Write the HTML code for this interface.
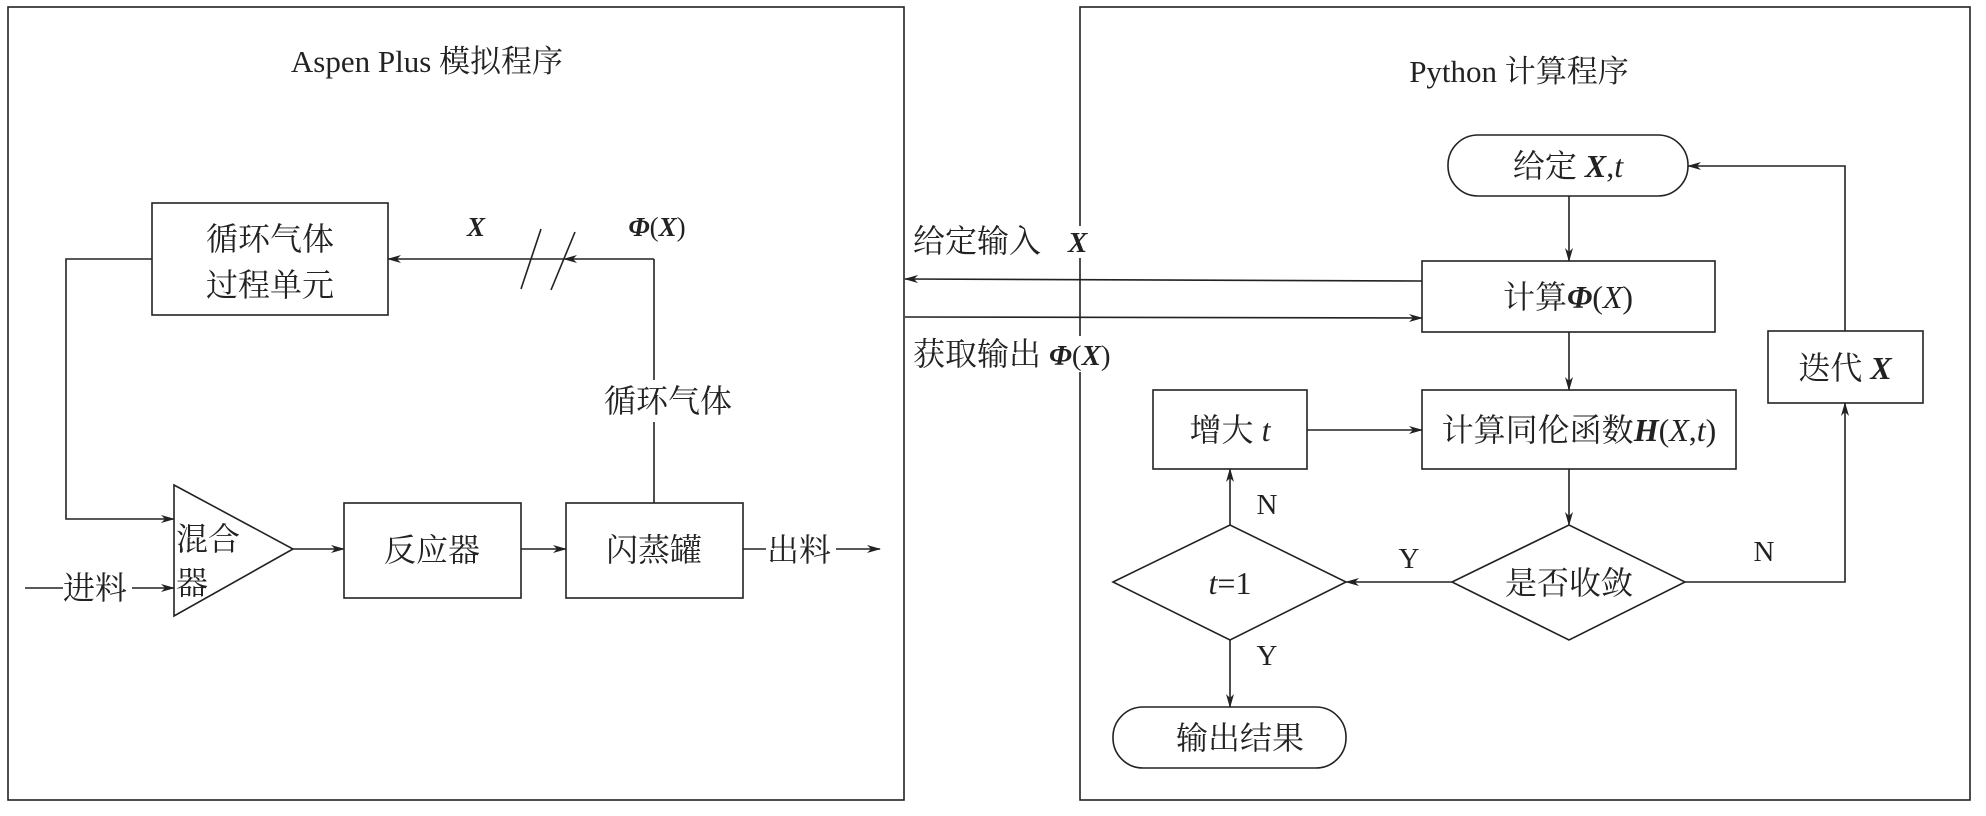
<!DOCTYPE html>
<html><head><meta charset="utf-8"><style>
html,body{margin:0;padding:0;background:#fff;}
svg{display:block;}
text{font-family:"Liberation Serif","Noto Serif CJK SC","Noto Sans CJK SC",serif;fill:#222;}
.i{font-style:italic;font-weight:bold;}
.it{font-style:italic;}
</style></head><body>
<svg width="1986" height="816" viewBox="0 0 1986 816" xmlns="http://www.w3.org/2000/svg">
<defs>
<marker id="a" markerWidth="14" markerHeight="8" refX="13" refY="4" orient="auto" markerUnits="userSpaceOnUse">
<path d="M0,0 L14,4 L0,8 L4,4 Z" fill="#222"/></marker>
</defs>
<g stroke="#222" stroke-width="1.6" fill="none">
<rect x="8" y="7" width="896" height="793"/>
<rect x="1080" y="7" width="890" height="793"/>
<rect x="152" y="203" width="236" height="112"/>
<line x1="654" y1="259" x2="564" y2="259" marker-end="url(#a)"/>
<line x1="564" y1="259" x2="388" y2="259" marker-end="url(#a)"/>
<line x1="541" y1="229" x2="521" y2="289"/>
<line x1="575" y1="232" x2="551" y2="290"/>
<line x1="654" y1="259" x2="654" y2="503"/>
<polyline points="152,259 66,259 66,519 174,519" marker-end="url(#a)"/>
<polygon points="174,485 174,616 293,549"/>
<line x1="293" y1="549" x2="344" y2="549" marker-end="url(#a)"/>
<rect x="344" y="503" width="177" height="95"/>
<line x1="521" y1="549" x2="566" y2="549" marker-end="url(#a)"/>
<rect x="566" y="503" width="177" height="95"/>
<line x1="743" y1="549" x2="766" y2="549"/>
<line x1="836" y1="549" x2="880" y2="549" marker-end="url(#a)"/>
<line x1="25" y1="588" x2="63" y2="588"/>
<line x1="132" y1="588" x2="174" y2="588" marker-end="url(#a)"/>
<line x1="1422" y1="281" x2="905" y2="279" marker-end="url(#a)"/>
<line x1="905" y1="317" x2="1422" y2="318" marker-end="url(#a)"/>
<rect x="1448" y="135" width="240" height="61" rx="30"/>
<line x1="1569" y1="196" x2="1569" y2="261" marker-end="url(#a)"/>
<rect x="1422" y="261" width="293" height="71"/>
<line x1="1569" y1="332" x2="1569" y2="390" marker-end="url(#a)"/>
<rect x="1422" y="390" width="314" height="79"/>
<rect x="1153" y="390" width="154" height="79"/>
<line x1="1307" y1="430" x2="1422" y2="430" marker-end="url(#a)"/>
<line x1="1569" y1="469" x2="1569" y2="525" marker-end="url(#a)"/>
<polygon points="1452,582 1569,525 1685,582 1569,640"/>
<polygon points="1113,582 1230,525 1346,582 1230,640"/>
<line x1="1452" y1="582" x2="1346" y2="582" marker-end="url(#a)"/>
<line x1="1230" y1="525" x2="1230" y2="469" marker-end="url(#a)"/>
<line x1="1230" y1="640" x2="1230" y2="707" marker-end="url(#a)"/>
<rect x="1113" y="707" width="233" height="61" rx="30"/>
<polyline points="1685,582 1845,582 1845,403" marker-end="url(#a)"/>
<rect x="1768" y="331" width="155" height="72"/>
<polyline points="1845,331 1845,166 1688,166" marker-end="url(#a)"/>
</g>
<rect x="1074" y="226" width="12" height="32" fill="#fff"/>
<rect x="1074" y="336" width="12" height="36" fill="#fff"/>
<g font-size="32">
<text x="427" y="72" text-anchor="middle" font-size="31">Aspen Plus 模拟程序</text>
<text x="270" y="250" text-anchor="middle">循环气体</text>
<text x="270" y="296" text-anchor="middle">过程单元</text>
<text x="476" y="236" text-anchor="middle" class="i" font-size="27">X</text>
<text x="657" y="236" text-anchor="middle" font-size="27"><tspan class="i">Φ</tspan>(<tspan class="i">X</tspan>)</text>
<rect x="596" y="380" width="144" height="42" fill="#fff"/>
<text x="668" y="412" text-anchor="middle">循环气体</text>
<text x="176" y="550">混合</text>
<text x="176" y="594">器</text>
<text x="63" y="599">进料</text>
<text x="432" y="561" text-anchor="middle">反应器</text>
<text x="654" y="561" text-anchor="middle">闪蒸罐</text>
<text x="767" y="561">出料</text>
<text x="913" y="252">给定输入</text>
<text x="1068" y="252" class="i" font-size="29">X</text>
<text x="913" y="365">获取输出 <tspan class="i" font-size="29">Φ</tspan><tspan font-size="29">(</tspan><tspan class="i" font-size="29">X</tspan><tspan font-size="29">)</tspan></text>
<text x="1519" y="82" text-anchor="middle" font-size="31">Python 计算程序</text>
<text x="1568" y="177" text-anchor="middle">给定 <tspan class="i">X</tspan>,<tspan class="it">t</tspan></text>
<text x="1568" y="308" text-anchor="middle">计算<tspan class="i">Φ</tspan>(<tspan class="it">X</tspan>)</text>
<text x="1579" y="441" text-anchor="middle">计算同伦函数<tspan class="i">H</tspan>(<tspan class="it">X</tspan>,<tspan class="it">t</tspan>)</text>
<text x="1230" y="441" text-anchor="middle">增大 <tspan class="it">t</tspan></text>
<text x="1569" y="594" text-anchor="middle">是否收敛</text>
<text x="1230" y="594" text-anchor="middle"><tspan class="it">t</tspan>=1</text>
<text x="1845" y="379" text-anchor="middle">迭代 <tspan class="i">X</tspan></text>
<text x="1240" y="749" text-anchor="middle">输出结果</text>
<text x="1409" y="568" text-anchor="middle" font-size="29">Y</text>
<text x="1267" y="514" text-anchor="middle" font-size="29">N</text>
<text x="1267" y="665" text-anchor="middle" font-size="29">Y</text>
<text x="1764" y="561" text-anchor="middle" font-size="29">N</text>
</g>
</svg>
</body></html>
